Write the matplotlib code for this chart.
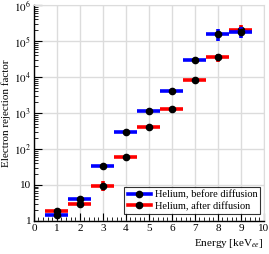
import numpy as np
import matplotlib.pyplot as plt
from matplotlib.lines import Line2D
from matplotlib.legend_handler import HandlerLine2D
from matplotlib.ticker import FixedLocator, NullFormatter

plt.rcParams['font.family'] = ['Liberation Serif', 'DejaVu Serif']
plt.rcParams['mathtext.fontset'] = 'stix'

energy = [1, 2, 3, 4, 5, 6, 7, 8, 9]
bin_half = [0.5] * 9

before = [1.5, 4.1, 34, 296, 1150, 4150, 29500, 156000, 181000]
before_err = [0.1, 0.3, 2, 15, 50, 200, 3000, 55000, 60000]

after = [1.9, 3.0, 9.6, 61, 415, 1310, 8100, 35000, 204000]
after_err = [0.2, 0.3, 3.0, 4, 25, 80, 1200, 9000, 70000]


class LeftMarker(HandlerLine2D):
    # ROOT style legend entry: dot at the left end of the line
    def get_xdata(self, legend, xdescent, ydescent, width, height, fontsize):
        xdata = np.array([-xdescent, -xdescent + width])
        return xdata, np.array([-xdescent + 0.1 * width])


fig = plt.figure(figsize=(2.69, 2.54), dpi=100)
ax = fig.add_axes([0.126, 0.130, 0.855, 0.850])

ax.errorbar(energy, after, xerr=bin_half, yerr=after_err, fmt='o', color='black',
            ecolor='red', elinewidth=2.6, capsize=0, markersize=4.5, zorder=3)
ax.errorbar(energy, before, xerr=bin_half, yerr=before_err, fmt='o', color='black',
            ecolor='blue', elinewidth=2.6, capsize=0, markersize=4.5, zorder=4)

ax.set_yscale('log')
ax.set_xlim(0, 10)
ax.set_ylim(1, 1e6)

ax.set_xticks(range(11))
ax.xaxis.set_minor_locator(FixedLocator(np.arange(0, 10.01, 0.2)))
ax.set_yticks([1, 10, 100, 1e3, 1e4, 1e5, 1e6])
ax.set_yticklabels(['1', '10', '$10^2$', '$10^3$', '$10^4$', '$10^5$', '$10^6$'])
ax.yaxis.set_minor_formatter(NullFormatter())

ax.tick_params(which='both', direction='in', labelsize=8, top=False, right=False)
ax.tick_params(which='major', length=6, width=0.8)
ax.tick_params(which='minor', length=3, width=0.6)
ax.tick_params(axis='x', pad=2)
ax.tick_params(axis='y', pad=2)

ax.grid(True, which='major', color='#dcdcdc', linewidth=1.0)
for s in ['top', 'right']:
    ax.spines[s].set_color('#dcdcdc')
for s in ['left', 'bottom']:
    ax.spines[s].set_linewidth(1.0)

ax.set_ylabel('Electron rejection factor', fontsize=8, labelpad=2)
ax.set_xlabel('Energy [keV$_{ee}$]', fontsize=8, loc='right', labelpad=3)

h_before = Line2D([], [], color='blue', linewidth=2.6, marker='o', markersize=4.5,
                  markerfacecolor='black', markeredgecolor='black')
h_after = Line2D([], [], color='red', linewidth=2.6, marker='o', markersize=4.5,
                 markerfacecolor='black', markeredgecolor='black')
leg = ax.legend([h_before, h_after], ['Helium, before diffusion', 'Helium, after diffusion'],
                loc='lower right', bbox_to_anchor=(0.985, 0.032), borderaxespad=0,
                fontsize=7.5, frameon=True, fancybox=False, edgecolor='black',
                handlelength=2.2, borderpad=0.3, labelspacing=0.2, handletextpad=0.4,
                handler_map={Line2D: LeftMarker()})
leg.get_frame().set_linewidth(0.8)

fig.savefig('out.png', dpi=100)
